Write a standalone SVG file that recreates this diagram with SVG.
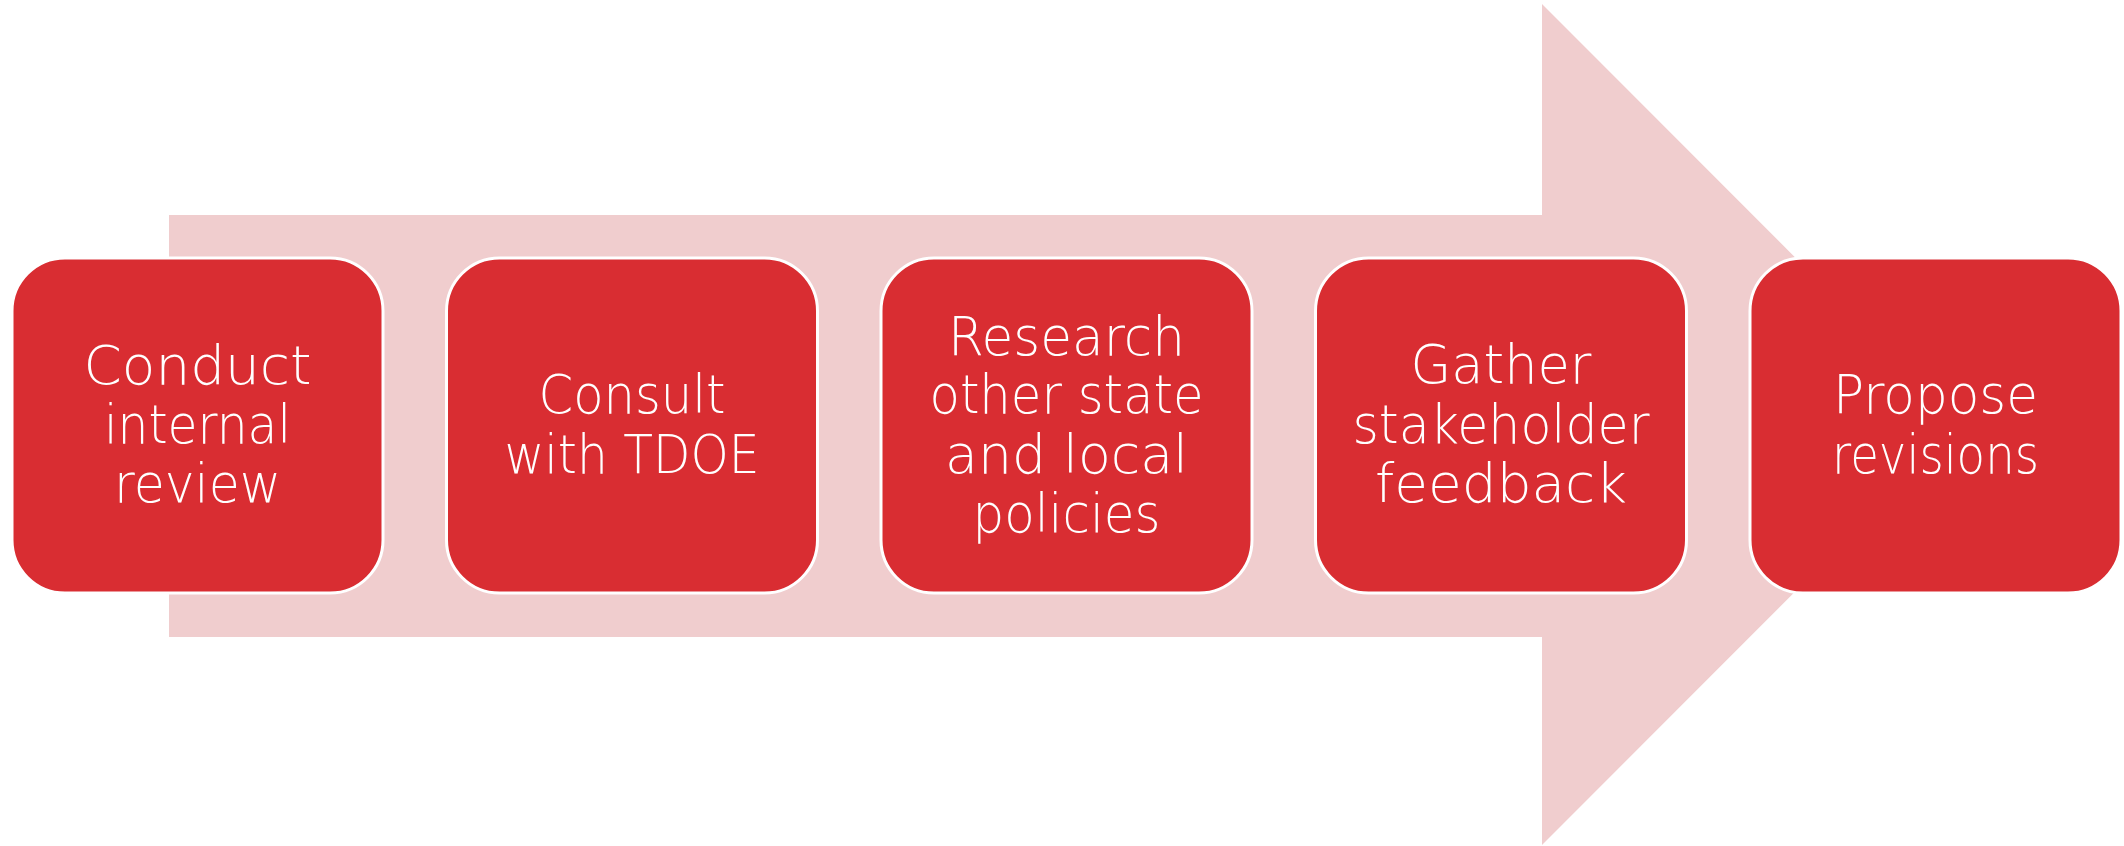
<svg xmlns="http://www.w3.org/2000/svg" width="2124" height="846" viewBox="0 0 2124 846">
<style>
.box{fill:#D92D32;stroke:#FFFFFF;stroke-width:3}
.lbl{fill:#FFFFFF;font-family:"DejaVu Sans","Liberation Sans",sans-serif;font-weight:200;font-size:53px;text-anchor:middle}
</style>
<rect width="2124" height="846" fill="#FFFFFF"/>
<g id="arrow">
<polygon points="169,215 1542,215 1542,4 1962,424.5 1542,845 1542,637 169,637" fill="#F0CDCE"/>
</g>
<g id="connectors"></g>
<g id="node1">
<rect class="box" x="12" y="258" width="371" height="335" rx="53" ry="53"/>
<text class="lbl" x="197.5" y="384" textLength="228" lengthAdjust="spacingAndGlyphs">Conduct</text>
<text class="lbl" x="197.5" y="443" textLength="187" lengthAdjust="spacingAndGlyphs">internal</text>
<text class="lbl" x="197.5" y="502" textLength="167" lengthAdjust="spacingAndGlyphs">review</text>
</g>
<g id="node2">
<rect class="box" x="446.5" y="258" width="371" height="335" rx="53" ry="53"/>
<text class="lbl" x="632" y="413" textLength="187" lengthAdjust="spacingAndGlyphs">Consult</text>
<text class="lbl" x="632" y="473" textLength="255" lengthAdjust="spacingAndGlyphs">with TDOE</text>
</g>
<g id="node3">
<rect class="box" x="881" y="258" width="371" height="335" rx="53" ry="53"/>
<text class="lbl" x="1066.5" y="355" textLength="237" lengthAdjust="spacingAndGlyphs">Research</text>
<text class="lbl" x="1066.5" y="413" textLength="274" lengthAdjust="spacingAndGlyphs">other state</text>
<text class="lbl" x="1066.5" y="473" textLength="243" lengthAdjust="spacingAndGlyphs">and local</text>
<text class="lbl" x="1066.5" y="532" textLength="188" lengthAdjust="spacingAndGlyphs">policies</text>
</g>
<g id="node4">
<rect class="box" x="1315.5" y="258" width="371" height="335" rx="53" ry="53"/>
<text class="lbl" x="1501" y="383" textLength="181" lengthAdjust="spacingAndGlyphs">Gather</text>
<text class="lbl" x="1501" y="443" textLength="297" lengthAdjust="spacingAndGlyphs">stakeholder</text>
<text class="lbl" x="1501" y="502" textLength="252" lengthAdjust="spacingAndGlyphs">feedback</text>
</g>
<g id="node5">
<rect class="box" x="1750" y="258" width="371" height="335" rx="53" ry="53"/>
<text class="lbl" x="1935.5" y="413" textLength="205" lengthAdjust="spacingAndGlyphs">Propose</text>
<text class="lbl" x="1935.5" y="473" textLength="207" lengthAdjust="spacingAndGlyphs">revisions</text>
</g>
</svg>
